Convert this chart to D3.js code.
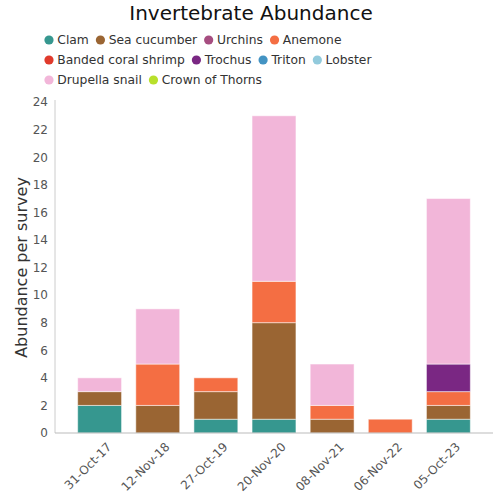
<!DOCTYPE html>
<html><head><meta charset="utf-8">
<script src="https://cdn.jsdelivr.net/npm/d3@7"></script>
<style>body{margin:0;background:#fff;font-family:"DejaVu Sans",sans-serif;}</style>
</head><body><svg id="c" width="500" height="500"></svg>
<script>
const categories = ["31-Oct-17","12-Nov-18","27-Oct-19","20-Nov-20","08-Nov-21","06-Nov-22","05-Oct-23"];
const seriesNames = ["Clam","Sea cucumber","Urchins","Anemone","Banded coral shrimp","Trochus","Triton","Lobster","Drupella snail","Crown of Thorns"];
const seriesColors = ["#36978f","#9a6533","#a64d80","#f46e43","#e03a2c","#7a2783","#4393c3","#92cadc","#f2b6d9","#b8e02b"];
const clam        = [2,0,1,1,0,0,1];
const seaCucumber = [1,2,2,7,1,0,1];
const urchins     = [0,0,0,0,0,0,0];
const anemone     = [0,3,1,3,1,1,1];
const shrimp      = [0,0,0,0,0,0,0];
const trochus     = [0,0,0,0,0,0,2];
const triton      = [0,0,0,0,0,0,0];
const lobster     = [0,0,0,0,0,0,0];
const drupella    = [1,4,0,12,3,0,12];
const cot         = [0,0,0,0,0,0,0];
const yTicks = [0,2,4,6,8,10,12,14,16,18,20,22,24];

const seriesValues = [clam,seaCucumber,urchins,anemone,shrimp,trochus,triton,lobster,drupella,cot];
const table = categories.map((c,i)=>{const o={cat:c};seriesNames.forEach((s,j)=>o[s]=seriesValues[j][i]);return o;});
const stacked = d3.stack().keys(seriesNames)(table);

const svg = d3.select("#c");
const mLeft=55,mRight=493,mTop=102,mBottom=433;
const x = d3.scaleBand().domain(categories).range([mLeft,mRight]).paddingInner(0.245).paddingOuter(0.39);
const y = d3.scaleLinear().domain([0,24]).range([mBottom,mTop]);

svg.append("text").attr("x",251).attr("y",20).attr("text-anchor","middle")
  .attr("font-size",20).attr("fill","#111").text("Invertebrate Abundance");

// legend
let lx=43, ly=40;
const maxX=443;
const lg = svg.append("g");
seriesNames.forEach((s,i)=>{
  const g = lg.append("g");
  const t = g.append("text").attr("x",14.3).attr("y",4.4).attr("font-size",12.3).attr("fill","#333").text(s);
  const w = 14.3 + t.node().getComputedTextLength();
  if (lx + w > maxX) { lx=43; ly+=20; }
  g.append("circle").attr("cx",6).attr("cy",0).attr("r",4.6).attr("fill",seriesColors[i]);
  g.attr("transform",`translate(${lx},${ly})`);
  lx += w + 5.6;
});

// bars
svg.append("g").selectAll("g").data(stacked).join("g")
  .attr("fill",(d,i)=>seriesColors[i])
  .selectAll("rect").data(d=>d.filter(v=>v[1]-v[0]>0)).join("rect")
  .attr("x",d=>x(d.data.cat)).attr("width",x.bandwidth())
  .attr("y",d=>y(d[1])).attr("height",d=>y(d[0])-y(d[1]))
  .attr("stroke","#fff").attr("stroke-opacity",0.5).attr("stroke-width",1);

// y axis
const ya = svg.append("g").attr("transform",`translate(${mLeft},0)`)
  .call(d3.axisLeft(y).tickValues(yTicks).tickSize(0).tickPadding(7));
ya.select(".domain").attr("stroke","#ccc").attr("d",`M0,${mBottom}V${mTop-2}`);
ya.selectAll("text").attr("font-size",12).attr("fill","#555").attr("font-family","DejaVu Sans");

// x axis
const xa = svg.append("g").attr("transform",`translate(0,${mBottom})`)
  .call(d3.axisBottom(x).tickSize(0).tickPadding(8));
xa.select(".domain").attr("stroke","#bbb").attr("d",`M${mLeft},0H${mRight}`);
xa.selectAll("text").attr("font-size",12).attr("fill","#555").attr("font-family","DejaVu Sans")
  .attr("text-anchor","end").attr("dy","0.35em")
  .attr("transform","translate(4,6) rotate(-45)");

svg.append("text").attr("transform",`translate(27,${(mTop+mBottom)/2}) rotate(-90)`)
  .attr("text-anchor","middle").attr("font-size",16).attr("fill","#333")
  .text("Abundance per survey");
</script></body></html>
